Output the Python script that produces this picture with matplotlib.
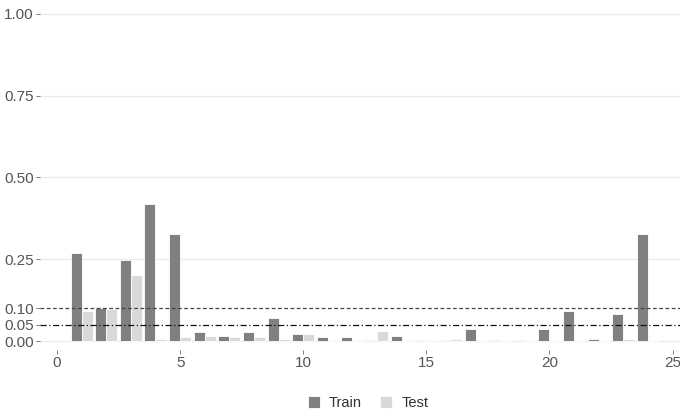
import numpy as np
import matplotlib.pyplot as plt

plt.rcParams['font.family'] = ['Liberation Sans', 'DejaVu Sans']

positions = np.arange(1, 25)
train = [0.268, 0.102, 0.248, 0.418, 0.328, 0.026, 0.016, 0.026, 0.071, 0.021,
         0.011, 0.011, 0.003, 0.016, 0.003, 0.003, 0.038, 0.002, 0.002, 0.038,
         0.093, 0.006, 0.082, 0.327]
test = [0.092, 0.097, 0.203, 0.006, 0.011, 0.016, 0.011, 0.011, 0.006, 0.021,
        0.002, 0.002, 0.031, 0.002, 0.002, 0.006, 0.002, 0.002, 0.002, 0.002,
        0.002, 0.002, 0.005, 0.002]
yticks = [0.0, 0.05, 0.10, 0.25, 0.50, 0.75, 1.00]
xticks = [0, 5, 10, 15, 20, 25]

fig = plt.figure(figsize=(6.8, 4.12), dpi=100)
ax = fig.add_axes([40 / 680, 62 / 412, 640 / 680, 346 / 412])

w = 0.45
ax.bar(positions - w / 2, train, width=w, color='#808080', edgecolor='white',
       linewidth=0.6, label='Train', zorder=2)
ax.bar(positions + w / 2, test, width=w, color='#d9d9d9', edgecolor='white',
       linewidth=0.6, label='Test', zorder=2)

# reference lines
ax.axhline(0.10, color='#444444', linestyle=(0, (3, 2)), linewidth=0.9, zorder=3)
ax.axhline(0.05, color='#111111', linestyle=(0, (5, 2, 1, 2)), linewidth=0.9, zorder=3)

for g in [0.0, 0.25, 0.5, 0.75, 1.0]:
    ax.axhline(g, color='#ebebeb', linewidth=1.0, zorder=1)

ax.set_xlim(-0.69, 25.3)
ax.set_ylim(-0.0275, 1.03)
ax.set_yticks(yticks)
ax.set_yticklabels(['0.00', '0.05', '0.10', '0.25', '0.50', '0.75', '1.00'])
ax.set_xticks(xticks)
ax.tick_params(axis='both', colors='#666666', labelcolor='#555555',
               labelsize=11, length=3, width=0.6, pad=1.5)
for s in ax.spines.values():
    s.set_visible(False)

fig.legend(loc='center', bbox_to_anchor=(0.541, 9 / 412), ncol=2, frameon=False,
           fontsize=10.5, handlelength=0.85, handleheight=0.85, columnspacing=1.25,
           handletextpad=0.6, labelcolor='#333333')

fig.savefig('out.png', dpi=100)
